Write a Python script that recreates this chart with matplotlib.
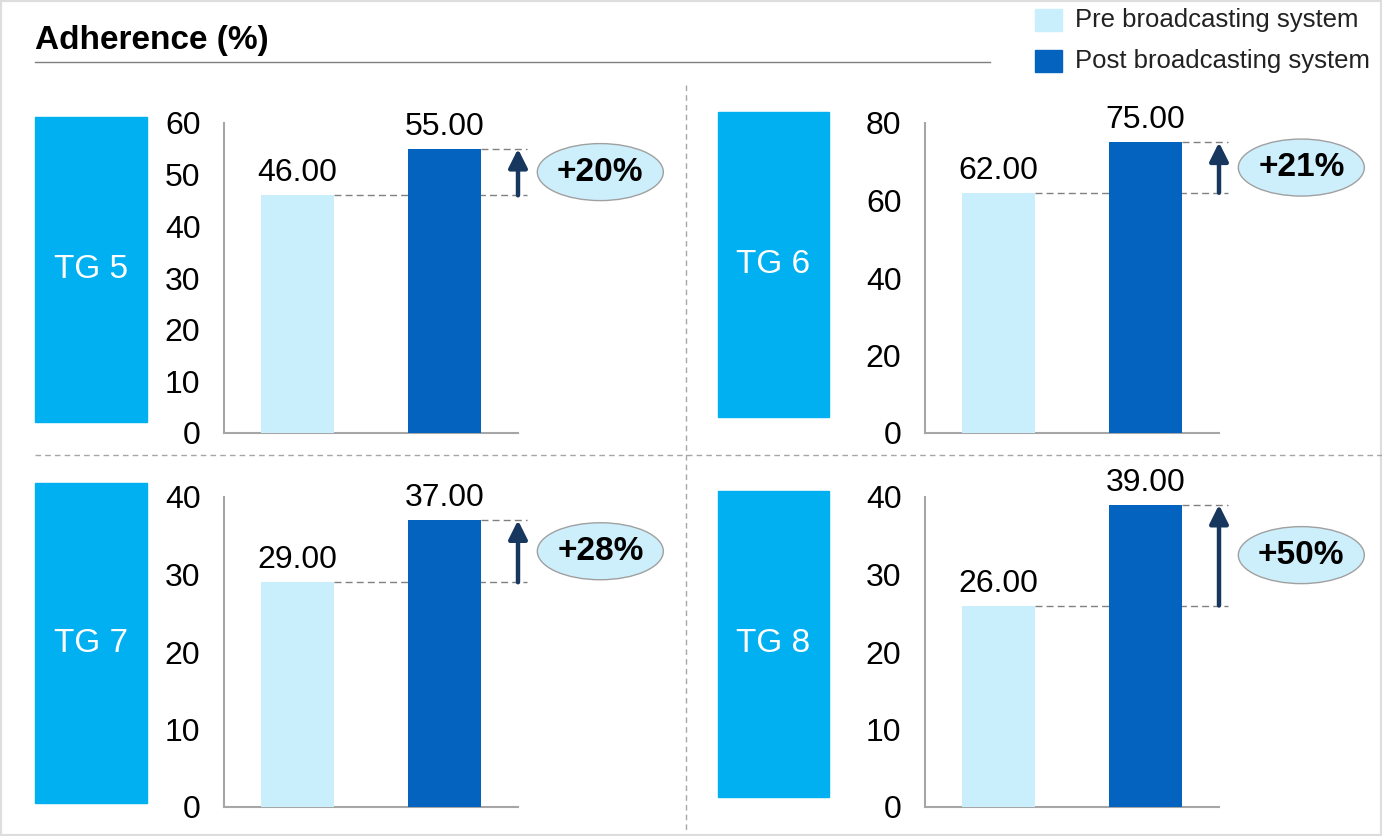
import matplotlib
matplotlib.use("Agg")
import matplotlib.pyplot as plt
from matplotlib.patches import Rectangle, Ellipse
from matplotlib.lines import Line2D

plt.rcParams["font.family"] = ["Liberation Sans", "DejaVu Sans"]

# Daten
groups = ["TG 5", "TG 6", "TG 7", "TG 8"]
pre = [46.0, 62.0, 29.0, 26.0]
post = [55.0, 75.0, 37.0, 39.0]
y_max = [60, 80, 40, 40]
y_step = [10, 20, 10, 10]
change = ["+20%", "+21%", "+28%", "+50%"]
series = ["Pre broadcasting system", "Post broadcasting system"]

c_pre = "#C9EEFC"
c_post = "#0563C0"
c_box = "#00B0F0"
c_arrow = "#17375E"
c_grey = "#A6A6A6"

W, H = 1382, 836
fig = plt.figure(figsize=(W / 100, H / 100), dpi=100)


def fx(px):
    return px / W


def fy(py):
    return 1 - py / H


# Rahmen
fig.patches.append(Rectangle((0, 0), 1, 1, transform=fig.transFigure, fill=False,
                             edgecolor="#DDDDDD", linewidth=3))

# Titel + Linie
fig.text(fx(35), fy(41), "Adherence (%)", fontsize=24, fontweight="bold", va="center", ha="left")
fig.add_artist(Line2D([fx(35), fx(990)], [fy(62), fy(62)], color="#7F7F7F", linewidth=1))

# Legende
for i, (name, col) in enumerate(zip(series, [c_pre, c_post])):
    yc = 20 + i * 41
    fig.patches.append(Rectangle((fx(1035), fy(yc + 11)), fx(27), 22 / H,
                                 transform=fig.transFigure, color=col))
    fig.text(fx(1075), fy(yc), name, fontsize=18.5, va="center", ha="left", color="#222222")

# Trennlinien
fig.add_artist(Line2D([fx(686), fx(686)], [fy(85), fy(830)], color=c_grey, linewidth=1, linestyle=(0, (4, 3))))
fig.add_artist(Line2D([fx(35), fx(1382)], [fy(455), fy(455)], color=c_grey, linewidth=1, linestyle=(0, (4, 3))))

# Panel-Positionen (Pixel)
ax_left = [224, 925, 224, 925]
ax_bottom = [433, 433, 807, 807]
boxes = [(35, 117, 147, 422), (718, 112, 829, 417), (35, 483, 147, 803), (718, 491, 829, 797)]

for i in range(4):
    ax = fig.add_axes([fx(ax_left[i]), fy(ax_bottom[i]), fx(294), 310 / H])
    ax.bar(0, pre[i], width=0.5, color=c_pre, zorder=3)
    ax.bar(1, post[i], width=0.5, color=c_post, zorder=3)
    ax.set_xlim(-0.5, 1.5)
    ax.set_ylim(0, y_max[i])
    ax.set_yticks(range(0, y_max[i] + 1, y_step[i]))
    ax.set_xticks([])
    ax.tick_params(axis="y", length=0, pad=17, labelsize=23)
    for s in ["top", "right"]:
        ax.spines[s].set_visible(False)
    for s in ["left", "bottom"]:
        ax.spines[s].set_color(c_grey)
        ax.spines[s].set_linewidth(1.5)

    # Wertelabels
    for x, v in [(0, pre[i]), (1, post[i])]:
        ax.annotate(f"{v:.2f}", (x, v), xytext=(0, 10), textcoords="offset points",
                    ha="center", va="baseline", fontsize=23)

    # gestrichelte Linien + Pfeil
    ax.plot([0.25, 1.56], [pre[i], pre[i]], color="#808080", linewidth=1,
            linestyle=(0, (5, 3)), clip_on=False, zorder=1)
    ax.plot([1.25, 1.56], [post[i], post[i]], color="#808080", linewidth=1,
            linestyle=(0, (5, 3)), clip_on=False, zorder=1)
    ax.annotate("", xy=(1.5, post[i]), xytext=(1.5, pre[i]),
                arrowprops=dict(arrowstyle="-|>", color=c_arrow, lw=3.2, mutation_scale=28,
                                shrinkA=0, shrinkB=0), annotation_clip=False)

    # Ellipse mit Prozent
    mid = (pre[i] + post[i]) / 2
    disp = ax.transData.transform((2.06, mid))
    cx, cy = fig.transFigure.inverted().transform(disp)
    fig.patches.append(Ellipse((cx, cy), fx(126), 57 / H, transform=fig.transFigure,
                               facecolor="#CDEFFC", edgecolor="#A0A0A0", linewidth=1))
    fig.text(cx, cy, change[i], fontsize=24, fontweight="bold", ha="center", va="center")

    # TG Box
    x0, y0, x1, y1 = boxes[i]
    fig.patches.append(Rectangle((fx(x0), fy(y1)), fx(x1 - x0), (y1 - y0) / H,
                                 transform=fig.transFigure, color=c_box))
    fig.text(fx((x0 + x1) / 2), fy((y0 + y1) / 2), groups[i], fontsize=24, color="white",
             ha="center", va="center")

plt.savefig("out.png", dpi=100)
